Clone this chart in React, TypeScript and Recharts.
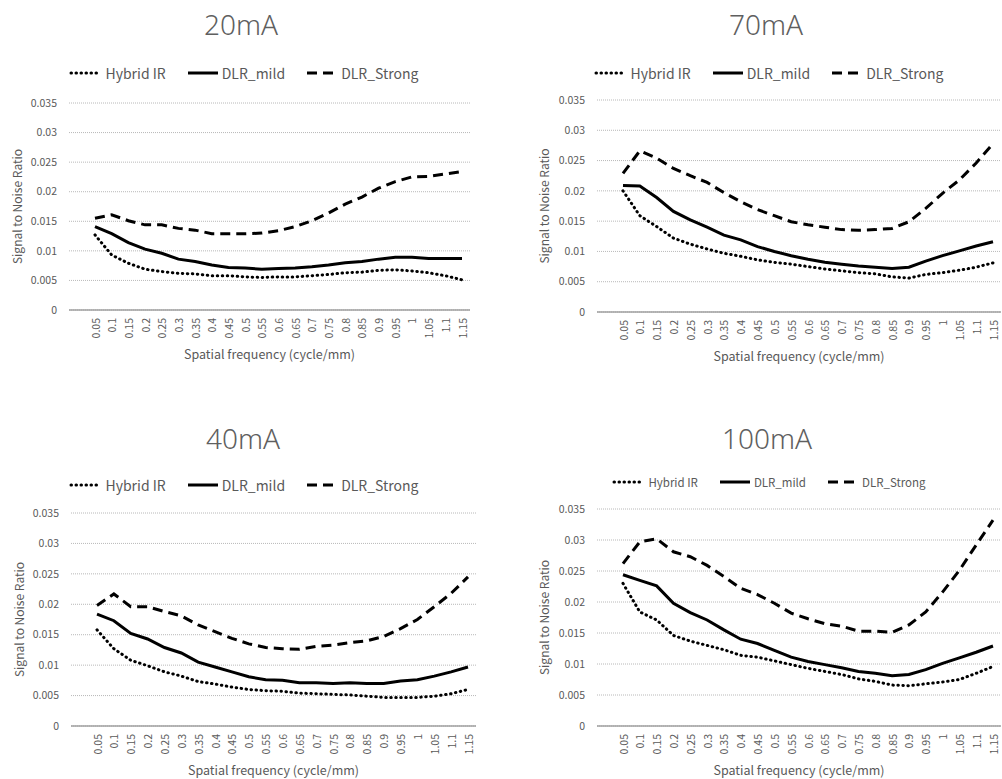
import React from "react";
import { LineChart, Line, XAxis, YAxis, CartesianGrid, Legend } from "recharts";

const freq = [
  "0.05", "0.1", "0.15", "0.2", "0.25", "0.3", "0.35", "0.4", "0.45", "0.5", "0.55", "0.6",
  "0.65", "0.7", "0.75", "0.8", "0.85", "0.9", "0.95", "1", "1.05", "1.1", "1.15",
];
const yTicks = [0, 0.005, 0.01, 0.015, 0.02, 0.025, 0.03, 0.035];
const seriesNames = ["Hybrid IR", "DLR_mild", "DLR_Strong"];

// 20mA
const hybrid20 = [0.0127, 0.0093, 0.0079, 0.0069, 0.0065, 0.0062, 0.0061, 0.0058, 0.0058, 0.0056, 0.0055, 0.0056, 0.0056, 0.0058, 0.006, 0.0063, 0.0064, 0.0067, 0.0068, 0.0066, 0.0063, 0.0058, 0.0051];
const mild20 = [0.0141, 0.0129, 0.0114, 0.0103, 0.0096, 0.0086, 0.0082, 0.0076, 0.0072, 0.0071, 0.0069, 0.007, 0.0071, 0.0073, 0.0076, 0.008, 0.0082, 0.0086, 0.0089, 0.0089, 0.0087, 0.0087, 0.0087];
const strong20 = [0.0155, 0.0161, 0.0151, 0.0144, 0.0144, 0.0138, 0.0135, 0.0129, 0.0129, 0.0129, 0.013, 0.0134, 0.0141, 0.0151, 0.0164, 0.0179, 0.0191, 0.0206, 0.0217, 0.0225, 0.0226, 0.023, 0.0234];

// 70mA
const hybrid70 = [0.02, 0.0159, 0.0141, 0.0122, 0.0112, 0.0104, 0.0097, 0.0092, 0.0086, 0.0082, 0.0079, 0.0075, 0.0071, 0.0068, 0.0065, 0.0063, 0.0058, 0.0056, 0.0062, 0.0065, 0.0069, 0.0074, 0.0081];
const mild70 = [0.0209, 0.0208, 0.0189, 0.0166, 0.0152, 0.014, 0.0127, 0.0119, 0.0108, 0.01, 0.0093, 0.0087, 0.0082, 0.0079, 0.0076, 0.0074, 0.0072, 0.0074, 0.0084, 0.0093, 0.0101, 0.0109, 0.0116];
const strong70 = [0.0229, 0.0266, 0.0254, 0.0237, 0.0225, 0.0214, 0.0197, 0.0182, 0.0169, 0.0159, 0.0149, 0.0144, 0.014, 0.0136, 0.0135, 0.0136, 0.0138, 0.0149, 0.0171, 0.0196, 0.0218, 0.0246, 0.0278];

// 40mA
const hybrid40 = [0.0158, 0.0127, 0.0108, 0.0099, 0.0089, 0.0082, 0.0073, 0.0069, 0.0064, 0.006, 0.0058, 0.0057, 0.0054, 0.0053, 0.0052, 0.0051, 0.0049, 0.0047, 0.0047, 0.0047, 0.0049, 0.0053, 0.006];
const mild40 = [0.0184, 0.0173, 0.0152, 0.0143, 0.0129, 0.012, 0.0105, 0.0097, 0.0089, 0.0081, 0.0076, 0.0075, 0.0071, 0.0071, 0.007, 0.0071, 0.007, 0.007, 0.0074, 0.0076, 0.0082, 0.0089, 0.0097];
const strong40 = [0.0198, 0.0217, 0.0196, 0.0196, 0.0188, 0.0181, 0.0166, 0.0155, 0.0144, 0.0135, 0.0129, 0.0127, 0.0126, 0.0131, 0.0133, 0.0137, 0.014, 0.0147, 0.016, 0.0175, 0.0196, 0.0218, 0.0245];

// 100mA
const hybrid100 = [0.023, 0.0184, 0.0171, 0.0146, 0.0137, 0.013, 0.0123, 0.0114, 0.0111, 0.0105, 0.0099, 0.0093, 0.0088, 0.0083, 0.0076, 0.0072, 0.0066, 0.0065, 0.0068, 0.0071, 0.0075, 0.0085, 0.0096];
const mild100 = [0.0244, 0.0235, 0.0226, 0.0198, 0.0183, 0.0171, 0.0155, 0.014, 0.0133, 0.0122, 0.0111, 0.0104, 0.0099, 0.0094, 0.0088, 0.0085, 0.0081, 0.0083, 0.0091, 0.0101, 0.011, 0.0119, 0.0129];
const strong100 = [0.0262, 0.0297, 0.0302, 0.0281, 0.0273, 0.0259, 0.0241, 0.0222, 0.0212, 0.0198, 0.0182, 0.0173, 0.0165, 0.0161, 0.0153, 0.0153, 0.0151, 0.0163, 0.0184, 0.0216, 0.0251, 0.0292, 0.0332];

const FONT = '"Noto Sans CJK JP", "Noto Sans", sans-serif';
const TITLE_FONT = '"Noto Sans", sans-serif';
const TEXT = "#595959";

const seriesStyle: Record<string, { dash?: string; cap: "round" | "butt" }> = {
  "Hybrid IR": { dash: "0.5 4.5", cap: "round" },
  DLR_mild: { cap: "butt" },
  DLR_Strong: { dash: "10 6", cap: "butt" },
};

function XTick(props: any) {
  const { x, y, payload } = props;
  return (
    <text
      x={x}
      y={y}
      transform={`rotate(-90 ${x} ${y})`}
      textAnchor="end"
      dominantBaseline="central"
      fontSize={10.5}
      fill={TEXT}
      fontFamily={FONT}
    >
      {payload.value}
    </text>
  );
}

type PanelProps = {
  title: string;
  hybrid: number[];
  mild: number[];
  strong: number[];
  left: number;
  top: number;
  width: number;
  height: number;
  margin: { top: number; right: number; bottom: number };
  yWidth: number;
  yTitleX: number;
  titleX: number;
  titleY: number;
  legendX: number;
  legendY: number;
  legendSize: number;
};

function Panel(p: PanelProps) {
  const rows = freq.map((f, i) => ({
    f,
    hybrid: p.hybrid[i],
    mild: p.mild[i],
    strong: p.strong[i],
  }));

  const legend = (props: any) => {
    const items = [...(props.payload || [])].sort(
      (a: any, b: any) => seriesNames.indexOf(a.value) - seriesNames.indexOf(b.value)
    );
    return (
      <div style={{ display: "flex", justifyContent: "center", gap: 20, fontFamily: FONT, fontSize: p.legendSize, color: TEXT }}>
        {items.map((e: any) => {
          const s = seriesStyle[e.value];
          return (
            <div key={e.value} style={{ display: "flex", alignItems: "center" }}>
              <svg width={34} height={10} style={{ marginRight: 2 }}>
                <line x1={2} y1={5} x2={32} y2={5} stroke="#000" strokeWidth={3} strokeDasharray={s.dash} strokeLinecap={s.cap} />
              </svg>
              <span>{e.value}</span>
            </div>
          );
        })}
      </div>
    );
  };

  return (
    <div style={{ position: "absolute", left: p.left, top: p.top, width: p.width, height: p.height }}>
      <div
        style={{
          position: "absolute",
          left: p.titleX - 100,
          width: 200,
          top: p.titleY - 18,
          height: 36,
          lineHeight: "36px",
          textAlign: "center",
          fontFamily: TITLE_FONT,
          fontWeight: 300,
          fontSize: 28,
          color: "#5f5f5f",
        }}
      >
        {p.title}
      </div>
      <LineChart width={p.width} height={p.height} data={rows} margin={{ top: p.margin.top, right: p.margin.right, bottom: p.margin.bottom, left: 0 }}>
        <CartesianGrid vertical={false} stroke="#a6a6a6" strokeWidth={0.8} strokeDasharray="1 1" />
        <XAxis
          dataKey="f"
          interval={0}
          height={50}
          tick={<XTick />}
          tickLine={false}
          tickSize={0}
          tickMargin={8}
          padding={{ left: 26, right: 8 }}
          axisLine={{ stroke: "#a0a0a0", strokeWidth: 1.5 }}
          label={(lp: any) => {
            const vb = lp.viewBox;
            return (
              <text x={vb.x + vb.width / 2} y={vb.y + 43} textAnchor="middle" dominantBaseline="central" fontSize={12.5} fill={TEXT} fontFamily={FONT}>
                Spatial frequency (cycle/mm)
              </text>
            );
          }}
        />
        <YAxis
          width={p.yWidth}
          domain={[0, 0.035]}
          ticks={yTicks}
          tickLine={false}
          axisLine={false}
          tickSize={0}
          tickMargin={12}
          tick={{ fontSize: 10.5, fill: TEXT, fontFamily: FONT }}
          label={(lp: any) => {
            const vb = lp.viewBox;
            const cx = p.yTitleX;
            const cy = vb.y + vb.height / 2;
            return (
              <text x={cx} y={cy} transform={`rotate(-90 ${cx} ${cy})`} textAnchor="middle" dominantBaseline="central" fontSize={12} fill={TEXT} fontFamily={FONT}>
                Signal to Noise Ratio
              </text>
            );
          }}
        />
        <Legend
          layout="horizontal"
          verticalAlign="middle"
          align="center"
          content={legend}
          wrapperStyle={{ top: p.legendY - 10, left: p.legendX - 250, width: 500, height: 20 }}
        />
        <Line name="Hybrid IR" dataKey="hybrid" stroke="#000" strokeWidth={3} strokeDasharray="0.5 4.5" strokeLinecap="round" dot={false} isAnimationActive={false} />
        <Line name="DLR_mild" dataKey="mild" stroke="#000" strokeWidth={3} dot={false} isAnimationActive={false} />
        <Line name="DLR_Strong" dataKey="strong" stroke="#000" strokeWidth={3} strokeDasharray="10 6" dot={false} isAnimationActive={false} />
      </LineChart>
    </div>
  );
}

export default function App() {
  return (
    <div style={{ position: "absolute", left: 0, top: 0, width: 1002, height: 779, background: "#fff", overflow: "hidden" }}>
      <Panel
        title="20mA" hybrid={hybrid20} mild={mild20} strong={strong20}
        left={0} top={0} width={500} height={380}
        margin={{ top: 103, right: 30, bottom: 20 }} yWidth={69} yTitleX={16}
        titleX={241} titleY={24} legendX={244} legendY={73} legendSize={14}
      />
      <Panel
        title="70mA" hybrid={hybrid70} mild={mild70} strong={strong70}
        left={500} top={0} width={502} height={380}
        margin={{ top: 100, right: 1, bottom: 18 }} yWidth={97} yTitleX={43}
        titleX={266} titleY={24} legendX={269} legendY={73} legendSize={14}
      />
      <Panel
        title="40mA" hybrid={hybrid40} mild={mild40} strong={strong40}
        left={0} top={400} width={500} height={379}
        margin={{ top: 113, right: 24, bottom: 3 }} yWidth={71} yTitleX={18}
        titleX={243} titleY={38} legendX={244} legendY={85} legendSize={14}
      />
      <Panel
        title="100mA" hybrid={hybrid100} mild={mild100} strong={strong100}
        left={500} top={400} width={502} height={379}
        margin={{ top: 109, right: 1, bottom: 3 }} yWidth={97} yTitleX={43}
        titleX={267} titleY={38} legendX={269} legendY={84} legendSize={11.5}
      />
    </div>
  );
}
